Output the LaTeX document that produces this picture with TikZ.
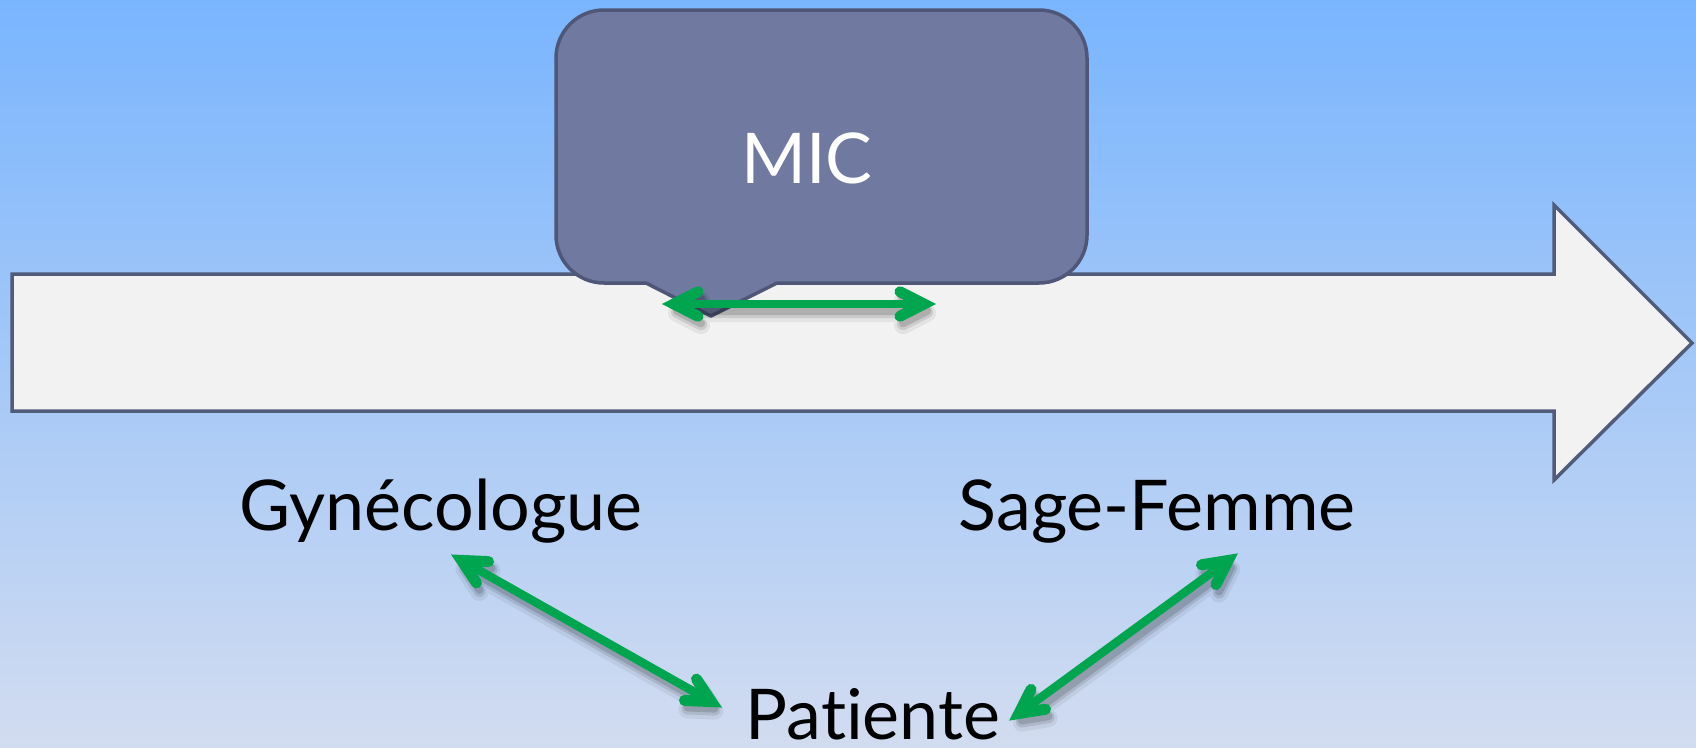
\documentclass[tikz,border=0pt]{standalone}
\usepackage{fontspec}
\setmainfont{Lato}[Ligatures={NoCommon}]
\usetikzlibrary{calc}
\definecolor{bgtop}{HTML}{79B5FE}
\definecolor{bgbot}{HTML}{D2DCF0}
\definecolor{arrowfill}{HTML}{F2F2F2}
\definecolor{edge}{HTML}{515B7A}
\definecolor{callfill}{HTML}{707AA0}
\definecolor{calledge}{HTML}{4F5678}
\definecolor{linkgreen}{HTML}{00A54F}
\tikzset{
  bigarrow/.style={fill=arrowfill, draw=edge, line width=3.5pt, line join=miter},
  callout/.style={fill=callfill, draw=calledge, line width=3.5pt},
  label/.style={font=\fontsize{70}{84}\selectfont, text=black, inner sep=0pt, anchor=base},
  shaft/.style={draw=linkgreen, line width=8.5pt},
  barbs/.style={draw=linkgreen, line width=11pt, line join=miter, miter limit=10, line cap=round},
  soft/.style={draw=black, line join=round, line cap=round}
}
% double-headed connector between two named coordinates
\newcommand\linkpair[2]{%
  \coordinate (vA) at ($(#1)!11pt!(#2)$);
  \coordinate (vB) at ($(#2)!11pt!(#1)$);
  \coordinate (aL) at ($(vA)!27pt!27:(vB)$);
  \coordinate (aR) at ($(vA)!27pt!-27:(vB)$);
  \coordinate (bL) at ($(vB)!27pt!27:(vA)$);
  \coordinate (bR) at ($(vB)!27pt!-27:(vA)$);
  \foreach \w/\o/\d in {18/0.06/9, 12/0.10/8, 8/0.14/7}{%
    \draw[soft, opacity=\o, line width=\w pt]
      ($(aL)+(3,\d)$) -- ($(vA)+(3,\d)$) -- ($(aR)+(3,\d)$)
      ($(vA)+(3,\d)$) -- ($(vB)+(3,\d)$)
      ($(bL)+(3,\d)$) -- ($(vB)+(3,\d)$) -- ($(bR)+(3,\d)$);
  }
  \draw[shaft] (vA) -- (vB);
  \draw[barbs] (aL) -- (vA) -- (aR);
  \draw[barbs] (bL) -- (vB) -- (bR);
}
\begin{document}
\begin{tikzpicture}[x=1pt,y=-1pt]
\useasboundingbox (0,0) rectangle (1696,747);
\shade[top color=bgtop, bottom color=bgbot] (0,0) rectangle (1696,747);
% big arrow
\draw[bigarrow] (12,274) -- (1554,274) -- (1554,205) -- (1692,343) -- (1554,480) -- (1554,411) -- (12,411) -- cycle;
% callout
\draw[callout, rounded corners=48pt] (556,10) rectangle (1087,283);
\fill[callfill] (646,281) -- (711,316) -- (777,281) -- cycle;
\draw[calledge, line width=3.5pt, line join=round] (646,283) -- (711,316) -- (777,283);
\node[label, text=white] (mic) at (807,183) {MIC};
% labels
\node[label] (gyn) at (441,530) {Gynécologue};
\node[label] (sage) at (1157,530) {Sage-Femme};
\node[label] (pat) at (873,739) {Patiente};
% connector end points
\coordinate (m1) at (663,304);
\coordinate (m2) at (935,304);
\coordinate (g1) at (452,555);
\coordinate (g2) at (721,707);
\coordinate (s1) at (1237,554);
\coordinate (s2) at (1010,720);
\linkpair{m1}{m2}
\linkpair{g1}{g2}
\linkpair{s1}{s2}
\end{tikzpicture}
\end{document}
